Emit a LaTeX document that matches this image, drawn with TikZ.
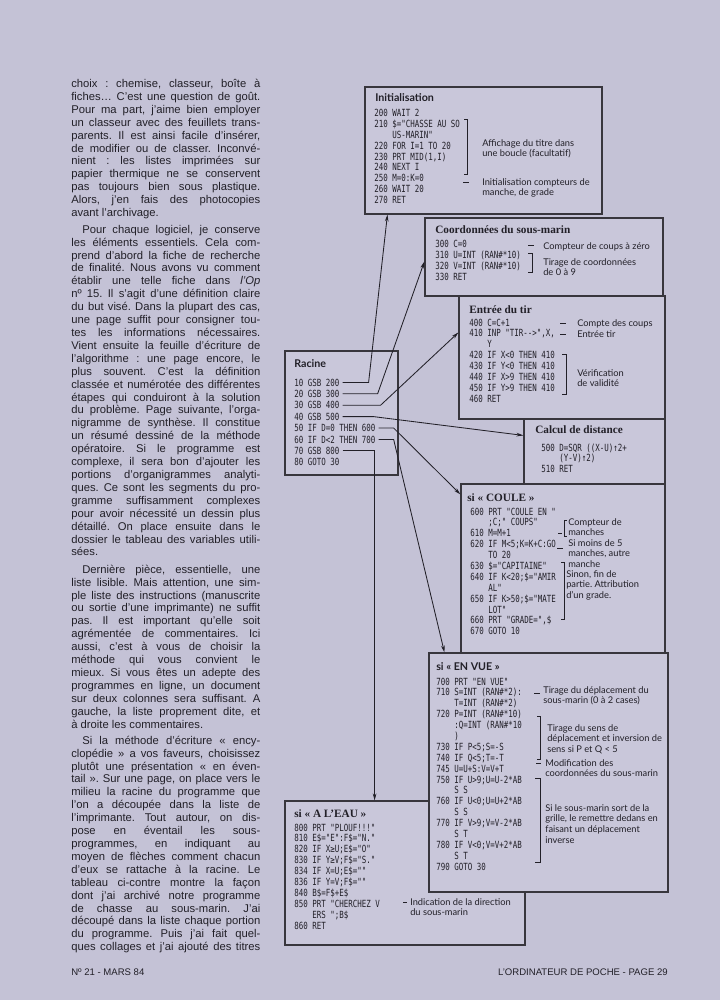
\documentclass[tikz,border=0pt]{standalone}
\usepackage{fontspec}
\setmainfont{Liberation Sans}
\newfontfamily\codefont[FakeStretch=0.76,Ligatures=TeXOff]{DejaVu Sans Mono}
\newfontfamily\notefont{Lato}
\newfontfamily\headfont{Liberation Serif}
\usetikzlibrary{fit,calc,arrows.meta}
\frenchspacing

\definecolor{pagebg}{RGB}{196,194,214}
\definecolor{boxbg}{RGB}{201,199,218}
\definecolor{ink}{RGB}{34,32,40}

% column of running text
\newlength\colw
\setlength\colw{4.725cm}
\newcommand\jline[1]{\makebox[\colw][s]{#1}\\}
\newcommand\fline[1]{\hspace*{0.275cm}\makebox[\dimexpr\colw-0.275cm\relax][s]{#1}\\}
% stacked lines (listings and comments)
\newcommand\rows[1]{\begin{tabular}[t]{@{}l@{}}#1\end{tabular}}
\newcommand\cont{\hphantom{000 }}

\begin{document}
\begin{tikzpicture}[x=0.025cm, y=-0.025cm, >={Stealth[length=5pt,width=2.6pt]},
  % frames of the pasted listings
  panel/.style={draw=ink!90, fill=boxbg, line width=0.8pt, inner sep=0pt},
  code/.style={font=\codefont\fontsize{7}{7.75}\selectfont, text=ink, inner sep=0pt, anchor=base west},
  note/.style={font=\notefont\fontsize{6.6}{7.6}\selectfont, text=ink, inner sep=0pt, anchor=base west},
  serifhead/.style={font=\headfont\bfseries\fontsize{8}{9}\selectfont, text=ink, inner sep=0pt, anchor=base west},
  sanshead/.style={font=\notefont\bfseries\fontsize{7.6}{9}\selectfont, text=ink, inner sep=0pt, anchor=base west},
  body/.style={font=\fontsize{8}{9.18}\selectfont, text=ink, inner sep=0pt, anchor=base west},
  foot/.style={font=\fontsize{6.8}{8}\selectfont, text=ink, inner sep=0pt},
  brk/.style={draw=ink, line width=0.5pt},
  link/.style={draw=ink, line width=0.6pt}
]
  \useasboundingbox (0,0) rectangle (720,1000);
  \fill[pagebg] (0,0) rectangle (720,1000);

  % --- Running text, left column ---
  \node[body] (para1) at (71,87.5) {\parbox[t]{\colw}{%
    \jline{choix : chemise, classeur, boîte à}
    \jline{fiches… C’est une question de goût.}
    \jline{Pour ma part, j’aime bien employer}
    \jline{un classeur avec des feuillets trans-}
    \jline{parents. Il est ainsi facile d’insérer,}
    \jline{de modifier ou de classer. Inconvé-}
    \jline{nient : les listes imprimées sur}
    \jline{papier thermique ne se conservent}
    \jline{pas toujours bien sous plastique.}
    \jline{Alors, j’en fais des photocopies}
    avant l’archivage.}};

  \node[body] (para2) at (71,233.2) {\parbox[t]{\colw}{%
    \fline{Pour chaque logiciel, je conserve}
    \jline{les éléments essentiels. Cela com-}
    \jline{prend d’abord la fiche de recherche}
    \jline{de finalité. Nous avons vu comment}
    \jline{établir une telle fiche dans \textit{l’Op}}
    \jline{nº 15. Il s’agit d’une définition claire}
    \jline{du but visé. Dans la plupart des cas,}
    \jline{une page suffit pour consigner tou-}
    \jline{tes les informations nécessaires.}
    \jline{Vient ensuite la feuille d’écriture de}
    \jline{l’algorithme : une page encore, le}
    \jline{plus souvent. C’est la définition}
    \jline{classée et numérotée des différentes}
    \jline{étapes qui conduiront à la solution}
    \jline{du problème. Page suivante, l’orga-}
    \jline{nigramme de synthèse. Il constitue}
    \jline{un résumé dessiné de la méthode}
    \jline{opératoire. Si le programme est}
    \jline{complexe, il sera bon d’ajouter les}
    \jline{portions d’organigrammes analyti-}
    \jline{ques. Ce sont les segments du pro-}
    \jline{gramme suffisamment complexes}
    \jline{pour avoir nécessité un dessin plus}
    \jline{détaillé. On place ensuite dans le}
    \jline{dossier le tableau des variables utili-}
    sées.}};

  \node[body] (para3) at (71,573.2) {\parbox[t]{\colw}{%
    \fline{Dernière pièce, essentielle, une}
    \jline{liste lisible. Mais attention, une sim-}
    \jline{ple liste des instructions (manuscrite}
    \jline{ou sortie d’une imprimante) ne suffit}
    \jline{pas. Il est important qu’elle soit}
    \jline{agrémentée de commentaires. Ici}
    \jline{aussi, c’est à vous de choisir la}
    \jline{méthode qui vous convient le}
    \jline{mieux. Si vous êtes un adepte des}
    \jline{programmes en ligne, un document}
    \jline{sur deux colonnes sera suffisant. A}
    \jline{gauche, la liste proprement dite, et}
    à droite les commentaires.}};

  \node[body] (para4) at (71,744.2) {\parbox[t]{\colw}{%
    \fline{Si la méthode d’écriture « ency-}
    \jline{clopédie » a vos faveurs, choisissez}
    \jline{plutôt une présentation « en éven-}
    \jline{tail ». Sur une page, on place vers le}
    \jline{milieu la racine du programme que}
    \jline{l’on a découpée dans la liste de}
    \jline{l’imprimante. Tout autour, on dis-}
    \jline{pose en éventail les sous-}
    \jline{programmes, en indiquant au}
    \jline{moyen de flèches comment chacun}
    \jline{d’eux se rattache à la racine. Le}
    \jline{tableau ci-contre montre la façon}
    \jline{dont j’ai archivé notre programme}
    \jline{de chasse au sous-marin. J’ai}
    \jline{découpé dans la liste chaque portion}
    \jline{du programme. Puis j’ai fait quel-}
    \makebox[\colw][s]{ques collages et j’ai ajouté des titres}}};

  % --- Frames ---
  \node[panel, fit={(365,87) (602,214)}] (init) {};
  \node[panel, fit={(425,218) (663,296)}] (coord) {};
  \node[panel, fit={(459,296) (665,419)}] (entree) {};
  \node[panel, fit={(524,419) (665,484)}] (calcul) {};
  \node[panel, fit={(461,484) (665,653)}] (coule) {};
  \node[panel, fit={(285,801) (525,945)}] (eau) {};
  \node[panel, fit={(429,653) (668,892)}] (envue) {};
  \node[panel, fit={(285,351) (398,475)}] (racine) {};

  % --- Titles ---
  \node[sanshead]  (inithead)   at (375,101) {Initialisation};
  \node[serifhead] (coordhead)  at (435,233) {Coordonnées du sous-marin};
  \node[serifhead] (entreehead) at (469,313) {Entrée du tir};
  \node[serifhead] (calculhead) at (535,433) {Calcul de distance};
  \node[serifhead] (coulehead)  at (467,501) {si « COULE »};
  \node[sanshead]  (envuehead)  at (436,670) {si « EN VUE »};
  \node[serifhead] (eauhead)    at (294,817) {si « A L’EAU »};
  \node[sanshead]  (racinehead) at (294,367) {Racine};

  % --- Listings ---
  \node[code] (initcode) at (374,116.5) {\rows{200 WAIT 2\\ 210 \$="CHASSE AU SO\\ \cont US-MARIN"\\
    220 FOR I=1 TO 20\\ 230 PRT MID(1,I)\\ 240 NEXT I\\ 250 M=0:K=0\\ 260 WAIT 20\\ 270 RET}};
  \node[code] (coordcode) at (435,247.5) {\rows{300 C=0\\ 310 U=INT (RAN\#*10)\\ 320 V=INT (RAN\#*10)\\ 330 RET}};
  \node[code] (entreecode) at (469,326) {\rows{400 C=C+1\\ 410 INP "TIR-->",X,\\ \cont Y\\
    420 IF X<0 THEN 410\\ 430 IF Y<0 THEN 410\\ 440 IF X>9 THEN 410\\ 450 IF Y>9 THEN 410\\ 460 RET}};
  \node[code] (calculcode) at (541,451) {\rows{500 D=SQR ((X-U)↑2+\\ \cont (Y-V)↑2)\\ 510 RET}};
  \node[code] (coulecode) at (470,515) {\rows{600 PRT "COULE EN "\\ \cont ;C;" COUPS"\\ 610 M=M+1\\
    620 IF M<5;K=K+C:GO\\ \cont TO 20\\ 630 \$="CAPITAINE"\\ 640 IF K<20;\$="AMIR\\ \cont AL"\\
    650 IF K>50;\$="MATE\\ \cont LOT"\\ 660 PRT "GRADE=",\$\\ 670 GOTO 10}};
  \node[code] (envuecode) at (436,685) {\rows{700 PRT "EN VUE"\\ 710 S=INT (RAN\#*2):\\ \cont T=INT (RAN\#*2)\\
    720 P=INT (RAN\#*10)\\ \cont :Q=INT (RAN\#*10\\ \cont )\\ 730 IF P<5;S=-S\\ 740 IF Q<5;T=-T\\
    745 U=U+S:V=V+T\\ 750 IF U>9;U=U-2*AB\\ \cont S S\\ 760 IF U<0;U=U+2*AB\\ \cont S S\\
    770 IF V>9;V=V-2*AB\\ \cont S T\\ 780 IF V<0;V=V+2*AB\\ \cont S T\\ 790 GOTO 30}};
  \node[code] (eaucode) at (294,831) {\rows{800 PRT "PLOUF!!!"\\ 810 E\$="E":F\$="N."\\ 820 IF X≥U;E\$="O"\\
    830 IF Y≥V;F\$="S."\\ 834 IF X=U;E\$=""\\ 836 IF Y=V;F\$=""\\ 840 B\$=F\$+E\$\\
    850 PRT "CHERCHEZ V\\ \cont ERS ";B\$\\ 860 RET}};
  \foreach \txt [count=\i] in {{10 GSB 200}, {20 GSB 300}, {30 GSB 400}, {40 GSB 500},
      {50 IF D=0 THEN 600}, {60 IF D<2 THEN 700}, {70 GSB 800}, {80 GOTO 30}}
    \node[code] (rac\i) at (294,386+11.4*\i-11.4) {\txt};

  % --- Comments beside the listings ---
  \draw[brk] (464,119) -- (467,119) -- (467,174) -- (464,174);
  \node[note] (initnote1) at (482,146) {\rows{Affichage du titre dans\\ une boucle (facultatif)}};
  \draw[brk] (463,182) -- (469,182);
  \node[note] (initnote2) at (482,185) {\rows{Initialisation compteurs de\\ manche, de grade}};

  \draw[brk] (528,245) -- (534,245);
  \node[note] (coordnote1) at (543,249) {Compteur de coups à zéro};
  \draw[brk] (528,253) -- (532,253) -- (532,272) -- (528,272);
  \node[note] (coordnote2) at (543,265) {\rows{Tirage de coordonnées\\ de 0 à 9}};

  \draw[brk] (560,323) -- (566,323);
  \node[note] (entreenote1) at (577,326) {Compte des coups};
  \draw[brk] (560,334) -- (566,334);
  \node[note] (entreenote2) at (577,337.5) {Entrée tir};
  \draw[brk] (562,354) -- (566,354) -- (566,394) -- (562,394);
  \node[note] (entreenote3) at (577,376) {\rows{Vérification\\ de validité}};

  \draw[brk] (567,520) -- (564,520) -- (564,536) -- (567,536);
  \draw[brk] (558,533) -- (562,533);
  \node[note] (coulenote1) at (568,525) {\rows{Compteur de\\ manches}};
  \draw[brk] (557,548) -- (563,548);
  \node[note] (coulenote2) at (568,546) {\rows{Si moins de 5\\ manches, autre\\ manche}};
  \draw[brk] (561,562) -- (564,562) -- (564,619) -- (561,619);
  \node[note] (coulenote3) at (566,577) {\rows{Sinon, fin de\\ partie. Attribution\\ d’un grade.}};

  \draw[brk] (534,693) -- (540,693);
  \node[note] (envuenote1) at (543,693) {\rows{Tirage du déplacement du\\ sous-marin (0 à 2 cases)}};
  \draw[brk] (537,716) -- (540,716) -- (540,759) -- (537,759);
  \node[note] (envuenote2) at (547,731) {\rows{Tirage du sens de\\ déplacement et inversion de\\ sens si P et Q < 5}};
  \draw[brk] (536,763) -- (541,763);
  \node[note] (envuenote3) at (545,766) {\rows{Modification des\\ coordonnées du sous-marin}};
  \draw[brk] (535,778) -- (540,778) -- (540,862) -- (535,862);
  \node[note] (envuenote4) at (545,811) {\rows{Si le sous-marin sort de la\\ grille, le remettre dedans en\\ faisant un déplacement\\ inverse}};

  \draw[brk] (403,902) -- (407,902);
  \node[note] (eaunote) at (410,905) {\rows{Indication de la direction\\ du sous-marin}};

  % --- Arrows from the root to each routine ---
  \draw[link, ->] ($(rac1.east)+(3,0)$) -- ++(26,0) -- ($(init.south west)+(23,0)$);
  \draw[link, ->] ($(rac2.east)+(3,0)$) -- ++(35,0) -- ($(coord.north west)+(0,44)$);
  \draw[link, ->] ($(rac3.east)+(3,0)$) -- ++(38,0) -- ($(entree.north west)+(0,37)$);
  \draw[link, ->] ($(rac4.east)+(3,0)$) -- ++(31,0) -- ($(calcul.north west)+(0,17)$);
  \draw[link, ->] ($(rac5.east)+(3,0)$) -- ++(15,0) -- ($(coule.north west)+(0,11)$);
  \draw[link, ->] ($(rac6.east)+(3,0)$) -- ++(15,0) -- ($(envue.north west)+(16,0)$);
  \draw[link, ->] ($(rac7.east)+(3,0)$) -- ++(32,0) coordinate (down70) -- (down70 |- eau.north);

  % --- Page foot ---
  \node[foot, anchor=base west] (issue) at (71,975) {Nº 21 - MARS 84};
  \node[foot, anchor=base east] (pageno) at (668,975) {L’ORDINATEUR DE POCHE - PAGE 29};
\end{tikzpicture}
\end{document}
